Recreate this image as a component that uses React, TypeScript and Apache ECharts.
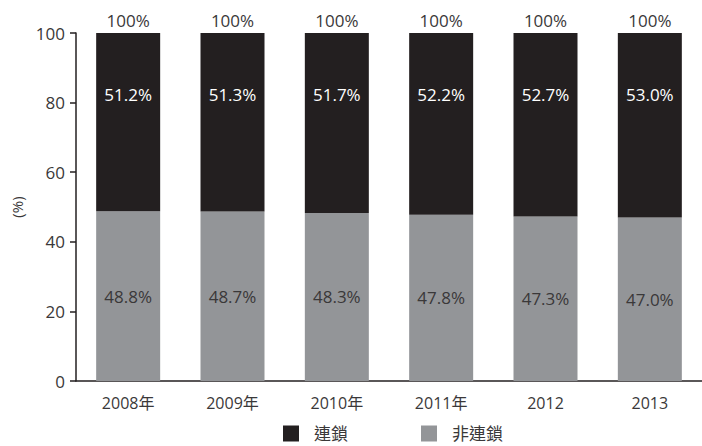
import React, { useEffect, useRef } from "react";
import * as echarts from "echarts";

const categories = ["2008年", "2009年", "2010年", "2011年", "2012", "2013"];
const nonChain = [48.8, 48.7, 48.3, 47.8, 47.3, 47.0];
const chain = [51.2, 51.3, 51.7, 52.2, 52.7, 53.0];
const totalLabels = ["100%", "100%", "100%", "100%", "100%", "100%"];
const yTicks = [0, 20, 40, 60, 80, 100];

const FONT = "'Open Sans', 'Noto Sans CJK TC', sans-serif";
const TEXT = "#3a3839";

export default function App() {
  const ref = useRef<HTMLDivElement>(null);
  useEffect(() => {
    if (!ref.current) return;
    const chart = echarts.init(ref.current, null, { renderer: "svg" });
    chart.setOption({
      animation: false,
      textStyle: { fontFamily: FONT },
      grid: { left: 76, top: 33, width: 638, bottom: 65, containLabel: false },
      legend: {
        top: 420,
        left: 278,
        icon: "rect",
        itemWidth: 16,
        itemHeight: 16,
        itemGap: 73,
        textStyle: { color: TEXT, fontSize: 17, fontFamily: FONT, padding: [0, 0, 0, 10] },
        data: ["連鎖", "非連鎖"],
      },
      xAxis: {
        type: "category",
        data: categories,
        axisLine: { lineStyle: { color: "#231f20", width: 1.5 } },
        axisTick: { show: false },
        axisLabel: { color: TEXT, fontSize: 16, margin: 14, fontFamily: FONT },
      },
      yAxis: {
        type: "value",
        min: yTicks[0],
        max: yTicks[yTicks.length - 1],
        interval: 20,
        name: "(%)",
        nameLocation: "middle",
        nameRotate: 90,
        nameGap: 48,
        nameTextStyle: { color: TEXT, fontSize: 15, fontFamily: FONT },
        axisLine: { show: true, lineStyle: { color: "#231f20", width: 1.5 } },
        axisTick: { show: true, length: 6, lineStyle: { color: "#231f20", width: 1.5 } },
        axisLabel: { color: TEXT, fontSize: 17, margin: 11, fontFamily: FONT },
        splitLine: { show: false },
      },
      series: [
        {
          name: "非連鎖",
          type: "bar",
          stack: "s",
          barWidth: 64,
          data: nonChain,
          itemStyle: { color: "#939598" },
          label: {
            show: true,
            position: "inside",
            formatter: (p: any) => p.value.toFixed(1) + "%",
            color: TEXT,
            fontSize: 17,
            fontFamily: FONT,
          },
        },
        {
          name: "連鎖",
          type: "bar",
          stack: "s",
          barWidth: 64,
          data: chain,
          itemStyle: { color: "#231f20" },
          label: {
            show: true,
            position: ["50%", 61],
            align: "center",
            verticalAlign: "middle",
            formatter: (p: any) => p.value.toFixed(1) + "%",
            color: "#ffffff",
            fontSize: 17,
            fontFamily: FONT,
          },
        },
        {
          name: "total",
          type: "bar",
          stack: "s",
          barWidth: 64,
          data: totalLabels.map(() => 0),
          itemStyle: { color: "transparent" },
          label: {
            show: true,
            position: "top",
            distance: 4,
            formatter: (p: any) => totalLabels[p.dataIndex],
            color: TEXT,
            fontSize: 17,
            fontFamily: FONT,
          },
        },
      ],
    });
    return () => chart.dispose();
  }, []);
  return <div ref={ref} style={{ width: 702, height: 446, position: "absolute", left: 0, top: 0 }} />;
}
